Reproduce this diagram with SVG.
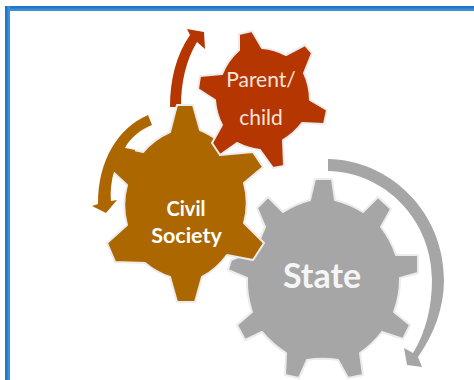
<svg xmlns="http://www.w3.org/2000/svg" width="474" height="380" viewBox="0 0 474 380">
  <style>
    .gear { stroke: #ececec; stroke-width: 2; stroke-linejoin: round; }
    .red { fill: #b53600; }
    .brown { fill: #ad6700; }
    .gray { fill: #a6a6a6; }
    text { font-family: "Lato", "Open Sans", "Liberation Sans", sans-serif; text-anchor: middle; }
    .lab { fill: #f8e4da; font-size: 21px; }
    .civ { fill: #ffffff; font-weight: 700; }
    .st { fill: #f5f5f5; font-size: 34px; font-weight: 700; }
  </style>
  <rect width="474" height="380" fill="#ffffff"/>
  <g id="frame">
    <rect x="5" y="6" width="469" height="5" fill="#3f8fd6"/>
    <rect x="5" y="6" width="469" height="2.5" fill="#1f78c8"/>
    <rect x="5" y="6" width="5" height="374" fill="#3f8fd6"/>
    <rect x="5" y="6" width="2.5" height="374" fill="#1f78c8"/>
  </g>
  <g id="connectors">
    <path class="gray" d="M328 159 C390 160 444 212 444 280 C444 308 434 334 418 357 L422 367 L407 365 L404 348 L413 353 C426 332 432 306 432 280 C432 220 385 172 328 171 Z"/>
    <path class="red" d="M170 107 C170 80 176 55 190 35 L187 29 L204 32 L205 49 L197 42 C186 60 181 82 181 107 Z"/>
  </g>
  <g id="state">
    <path class="gear gray" d="M315 179 L332 179 L335 200 A95 95 0 0 1 363 212 L378 197 L391 209 L381 227 A95 95 0 0 1 396 255 L418 255 L418 273 L400 278 A95 95 0 0 1 394 312 L410 325 L403 339 L382 332 A95 95 0 0 1 360 353 L363 375 L348 378 L338 360 A95 95 0 0 0 307 360 L299 378 L285 375 L286 353 A95 95 0 0 1 262 332 L245 340 L237 325 L252 312 A95 95 0 0 1 247 278 L228 270 L231 260 L255 250 L265 227 L257 208 L268 197 L283 212 A95 95 0 0 1 310 200 Z"/>
    <text class="st" x="322" y="288">State</text>
  </g>
  <g id="civil-society">
    <path class="gear brown" d="M177 105 L193 105 L200 130 A75 75 0 0 1 220 142 L220 155 L253 152 L263 167 L244 183 A75 75 0 0 1 244 223 L264 243 L253 260 L227 255 A75 75 0 0 1 202 277 L195 302 L177 302 L170 277 A75 75 0 0 1 145 263 L115 262 L107 243 L127 225 A75 75 0 0 1 127 185 L113 172 L125 148 L143 152 A75 75 0 0 1 170 132 Z"/>
    <path class="brown" d="M148 115 C118 128 98 160 98 204 L92 206 L106 213 L117 200 L111 201 C110 190 112 178 114 172 L132 172 L135 150 L125 148 C130 138 140 130 152 125 Z"/>
    <text class="civ" x="186" y="216" font-size="20">Civil</text>
    <text class="civ" x="186.500" y="243" font-size="21.500">Society</text>
  </g>
  <g id="parent-child">
    <path class="gear red" d="M239 34 L252 31 L262 48 A65 65 0 0 1 286 55 L305 45 L312 53 L304 73 A65 65 0 0 1 310 100 L327 110 L324 124 L302 123 A65 65 0 0 1 283 140 L284 166 L273 168 L260 150 A65 65 0 0 1 237 143 L220 155 L212 143 L222 125 A65 65 0 0 1 215 100 L198 89 L200 76 L222 74 A65 65 0 0 1 239 50 Z"/>
    <text class="lab" x="261" y="87">Parent/</text>
    <text class="lab" x="261" y="125">child</text>
  </g>
</svg>
